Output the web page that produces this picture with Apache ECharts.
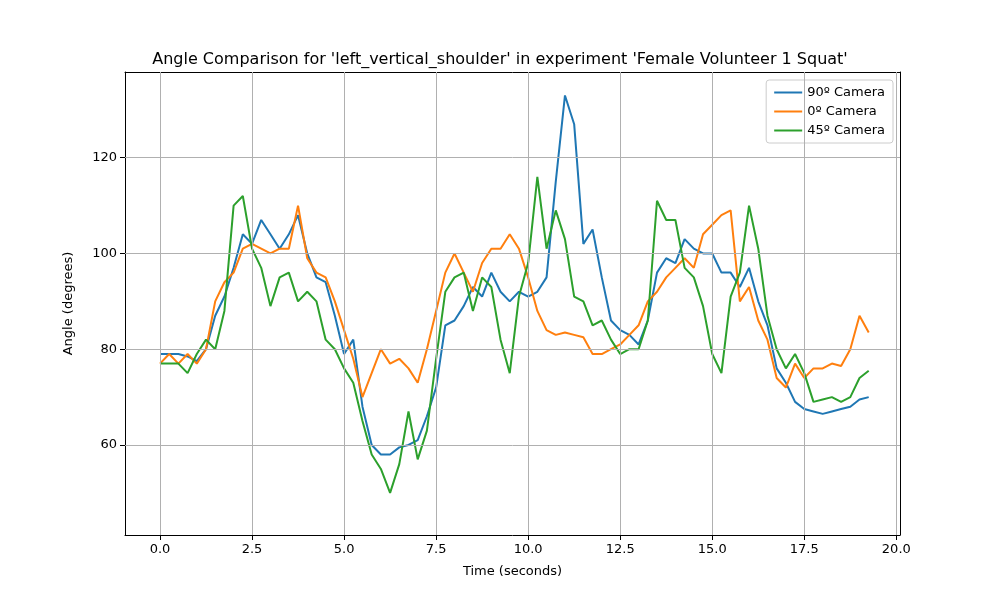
<!DOCTYPE html>
<html>
<head>
<meta charset="utf-8">
<script src="https://cdn.jsdelivr.net/npm/echarts@6/dist/echarts.min.js"></script>
<style>html,body{margin:0;padding:0;background:#fff}#chart{width:1000px;height:600px}</style>
</head>
<body>
<div id="chart"></div>
<script>
// samples every 0.25 s
var times = [];
for (var i = 0; i < 78; i++) times.push(i * 0.25);

var cam90 = [79,79,79,78.5,77.5,80,87,91,97,104,102,107,104,101,104,108,100,95,94,87,79,82,68,60,58,58,59.5,60,61,66,72,85,86,89,93,91,96,92,90,92,91,92,95,115,133,127,102,105,95,86,84,83,81,86,96,99,98,103,101,100,100,96,96,93,97,90,85,76,73,69,67.5,67,66.5,67,67.5,68,69.5,70];
var cam0 = [77,79,77,79,77,80,90,94,96,101,102,101,100,101,101,110,99,96,95,90,84,78,70,75,80,77,78,76,73,80,88,96,100,96,92,98,101,101,104,101,95,88,84,83,83.5,83,82.5,79,79,80,81,83,85,90,92,95,97,99,97,104,106,108,109,90,93,86,82,74,72,77,74,76,76,77,76.5,80,87,83.5];
var cam45 = [77,77,77,75,79,82,80,88,110,112,101,97,89,95,96,90,92,90,82,80,76,73,65,58,55,50,56,67,57,63,78,92,95,96,88,95,93,82,75,91,98,116,101,109,103,91,90,85,86,82,79,80,80,86,111,107,107,97,95,89,79,75,91,96,110,101,87,80,76,79,75,69,69.5,70,69,70,74,75.5];
var seriesNames = ['90º Camera', '0º Camera', '45º Camera'];
var seriesColors = ['#1f77b4', '#ff7f0e', '#2ca02c'];
var xTicks = [0, 2.5, 5, 7.5, 10, 12.5, 15, 17.5, 20];
var yTicks = [60, 80, 100, 120];

function pairs(v) { return v.map(function (y, i) { return [times[i], y]; }); }

var font = 'DejaVu Sans';
var frameAxis = { show: true, axisLine: { show: true, onZero: false, lineStyle: { color: '#000' } },
    axisTick: { show: false }, axisLabel: { show: false }, splitLine: { show: false } };

var chart = echarts.init(document.getElementById('chart'));
chart.setOption({
    animation: false,
    textStyle: { fontFamily: font },
    title: {
        text: "Angle Comparison for 'left_vertical_shoulder' in experiment 'Female Volunteer 1 Squat'",
        left: 'center', top: 47,
        textStyle: { fontFamily: font, fontSize: 16, fontWeight: 'normal', color: '#000' }
    },
    legend: {
        orient: 'vertical', right: 107, top: 80,
        padding: [6, 8], itemGap: 6,
        borderColor: '#ccc', borderWidth: 1, borderRadius: 3,
        itemWidth: 28, itemHeight: 2, icon: 'rect',
        textStyle: { fontFamily: font, fontSize: 13, color: '#000' },
        data: seriesNames
    },
    grid: { left: 125, right: 100, top: 72, bottom: 65 },
    xAxis: [{
        type: 'value', min: -0.95, max: 20.1,
        name: 'Time (seconds)', nameLocation: 'middle', nameGap: 30,
        nameTextStyle: { fontFamily: font, fontSize: 13, color: '#000' },
        axisLine: { onZero: false, lineStyle: { color: '#000' } },
        axisTick: { customValues: xTicks, lineStyle: { color: '#000' } },
        axisLabel: { customValues: xTicks, color: '#000', fontSize: 13,
            formatter: function (v) { return v.toFixed(1); } },
        splitLine: { show: false }
    }, Object.assign({ type: 'value', position: 'top', min: -0.95, max: 20.1 }, frameAxis)],
    yAxis: [{
        type: 'value', min: 41.2, max: 137.9,
        name: 'Angle (degrees)', nameLocation: 'middle', nameGap: 50,
        nameTextStyle: { fontFamily: font, fontSize: 13, color: '#000' },
        axisLine: { show: true, onZero: false, lineStyle: { color: '#000' } },
        axisTick: { show: true, customValues: yTicks, lineStyle: { color: '#000' } },
        axisLabel: { customValues: yTicks, color: '#000', fontSize: 13 },
        splitLine: { show: false }
    }, Object.assign({ type: 'value', position: 'right', min: 41.2, max: 137.9 }, frameAxis)],
    series: seriesNames.map(function (n, k) {
        return {
            name: n, type: 'line', showSymbol: false, smooth: false,
            data: pairs([cam90, cam0, cam45][k]),
            lineStyle: { width: 2, color: seriesColors[k] },
            itemStyle: { color: seriesColors[k] },
            markLine: k === 0 ? {
                silent: true, symbol: 'none', label: { show: false },
                lineStyle: { color: '#b0b0b0', type: 'solid', width: 1 },
                data: xTicks.map(function (x) { return { xAxis: x }; })
                    .concat(yTicks.map(function (y) { return { yAxis: y }; }))
            } : undefined,
            z: 2
        };
    })
});
</script>
</body>
</html>
